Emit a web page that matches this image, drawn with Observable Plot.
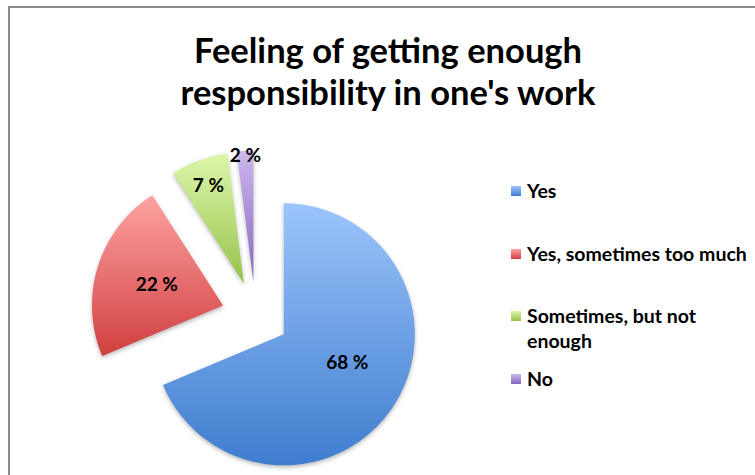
<!DOCTYPE html>
<html><head><meta charset="utf-8">
<script src="https://cdn.jsdelivr.net/npm/d3@7"></script>
<script src="https://cdn.jsdelivr.net/npm/@observablehq/plot@0.6"></script>
<style>
html,body{margin:0;padding:0;background:#fff;}
#wrap{position:relative;width:755px;height:475px;overflow:hidden;font-family:Lato,"Open Sans",sans-serif;color:#000;}
#frame{position:absolute;left:8px;top:6px;width:900px;height:600px;border-left:2px solid #8a8a8a;border-top:2px solid #8a8a8a;}
#title{position:absolute;left:0;width:776px;top:29px;text-align:center;font-weight:bold;font-size:34.5px;line-height:42px;}
#chart{position:absolute;left:0;top:0;}
#chart svg g[aria-label="line"] path{filter:drop-shadow(0px 2px 2px rgba(0,0,0,0.28));}
.leg{position:absolute;left:511px;font-weight:bold;font-size:19.5px;line-height:25px;width:244px;}
.leg .sw{position:absolute;left:0;top:8px;width:10px;height:10px;}
.leg .tx{position:absolute;left:16px;top:0;width:228px;}
</style></head>
<body>
<svg width="0" height="0" style="position:absolute">
<defs id="defs"></defs>
</svg>
<div id="wrap">
<div id="frame"></div>
<div id="title">Feeling of getting enough<br>responsibility in one's work</div>
<div id="chart"></div>
<div id="legend"></div>
</div>
<script>
// data
const categories = ["Yes", "Yes, sometimes too much", "Sometimes, but not enough", "No"];
const shares = [68, 22, 7, 2];
const valueLabels = ["68 %", "22 %", "7 %", "2 %"];
// styles
const topColors = ["#9cc4fb", "#ffa3a3", "#ddf6ab", "#cdb8ee"];
const bottomColors = ["#3f7dcf", "#d03f3f", "#97c24a", "#8567bd"];

const defs = document.getElementById("defs");
categories.forEach((c, i) => {
  const g = document.createElementNS("http://www.w3.org/2000/svg", "linearGradient");
  g.setAttribute("id", "grad" + i);
  g.setAttribute("x1", "0"); g.setAttribute("y1", "0");
  g.setAttribute("x2", "0"); g.setAttribute("y2", "1");
  const s1 = document.createElementNS("http://www.w3.org/2000/svg", "stop");
  s1.setAttribute("offset", "0"); s1.setAttribute("stop-color", topColors[i]);
  const s2 = document.createElementNS("http://www.w3.org/2000/svg", "stop");
  s2.setAttribute("offset", "1"); s2.setAttribute("stop-color", bottomColors[i]);
  g.appendChild(s1); g.appendChild(s2);
  defs.appendChild(g);
});

const cx = 255, cy = 315, R = 131, explode = 34;
const total = d3.sum(shares);
const arcs = d3.pie().sort(null).value(d => d)(shares);
const pts = [];
const labelPts = [];
arcs.forEach((a, i) => {
  const mid = (a.startAngle + a.endAngle) / 2;
  const ox = cx + explode * Math.sin(mid), oy = cy - explode * Math.cos(mid);
  pts.push({cat: categories[i], x: ox, y: oy});
  const n = Math.max(4, Math.ceil((a.endAngle - a.startAngle) / 0.01));
  for (let k = 0; k <= n; k++) {
    const t = a.startAngle + (a.endAngle - a.startAngle) * k / n;
    pts.push({cat: categories[i], x: ox + R * Math.sin(t), y: oy - R * Math.cos(t)});
  }
  const f = shares[i] / total;
  const lr = R * (f >= 0.15 ? 0.53 : f >= 0.05 ? 0.79 : 0.96);
  const la = f >= 0.5 ? mid - 0.17 : mid;
  labelPts.push({text: valueLabels[i], x: ox + lr * Math.sin(la), y: oy - lr * Math.cos(la)});
});

const chart = Plot.plot({
  width: 755, height: 475, margin: 0,
  style: {background: "transparent", overflow: "visible"},
  x: {domain: [0, 755], range: [0, 755], axis: null},
  y: {domain: [0, 475], range: [0, 475], axis: null},
  color: {domain: categories, range: categories.map((_, i) => `url(#grad${i})`)},
  marks: [
    Plot.line(pts, {x: "x", y: "y", z: "cat", fill: "cat", stroke: null, curve: "linear-closed"}),
    Plot.text(labelPts, {x: "x", y: "y", text: "text", fill: "#000", fontWeight: "bold", fontSize: 19, fontFamily: "Lato, sans-serif"})
  ]
});
document.getElementById("chart").appendChild(chart);

const legend = document.getElementById("legend");
const legTops = [178, 241, 303, 366];
categories.forEach((c, i) => {
  const d = document.createElement("div");
  d.className = "leg";
  d.style.top = legTops[i] + "px";
  d.innerHTML = `<div class="sw" style="background:linear-gradient(${topColors[i]},${bottomColors[i]})"></div><div class="tx"></div>`;
  d.querySelector(".tx").textContent = c;
  legend.appendChild(d);
});
</script>
</body></html>
